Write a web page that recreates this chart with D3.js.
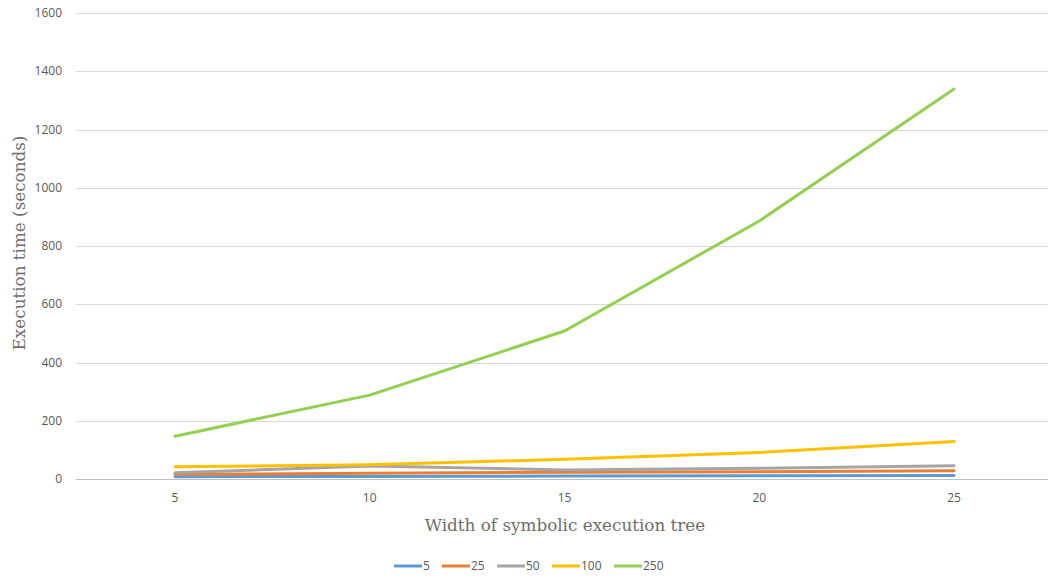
<!DOCTYPE html>
<html>
<head>
<meta charset="utf-8">
<script src="https://cdn.jsdelivr.net/npm/d3@7"></script>
<style>
  html, body { margin: 0; padding: 0; background: #ffffff; }
  svg { display: block; }
</style>
</head>
<body>
<svg id="chart" width="1048" height="577"></svg>
<script>
// Tree widths on the x axis
const widths = ["5", "25", "50", "100", "250"];
const categories = ["5", "10", "15", "20", "25"];

// Execution time (seconds) per series (depth of tree)
const series5 = [8, 9, 10, 11, 12];
const series25 = [16, 19.5, 23, 25, 28.5];
const series50 = [21.5, 44.5, 31, 36.5, 45.5];
const series100 = [42, 49, 67.5, 91, 129];
const series250 = [147, 288, 508, 886, 1339];

const yTicks = [0, 200, 400, 600, 800, 1000, 1200, 1400, 1600];
const colors = ["#5B9BD5", "#ED7D31", "#A5A5A5", "#FFC000", "#92D050"];

const seriesData = [series5, series25, series50, series100, series250];

const svg = d3.select("#chart");
const plotLeft = 77.6, plotRight = 1051.4, plotTop = 13, plotBottom = 479;
const labelFont = "'Open Sans', 'Liberation Sans', sans-serif";
const titleFont = "'DejaVu Serif', 'Liberation Serif', serif";

const x = d3.scalePoint().domain(categories).range([plotLeft, plotRight]).padding(0.5);
const y = d3.scaleLinear().domain([0, 1600]).range([plotBottom, plotTop]);

// Horizontal gridlines
svg.append("g")
  .selectAll("line")
  .data(yTicks)
  .join("line")
  .attr("x1", 76).attr("x2", 1048)
  .attr("y1", d => Math.round(y(d)) + 0.5).attr("y2", d => Math.round(y(d)) + 0.5)
  .attr("stroke", d => d === 0 ? "#bfbfbf" : "#d9d9d9")
  .attr("stroke-width", 1);

// Y tick labels
svg.append("g")
  .selectAll("text")
  .data(yTicks)
  .join("text")
  .attr("x", 62)
  .attr("y", d => y(d))
  .attr("dy", "0.35em")
  .attr("text-anchor", "end")
  .attr("font-family", labelFont)
  .attr("font-size", 12)
  .attr("fill", "#595959")
  .text(d => d);

// X tick labels
svg.append("g")
  .selectAll("text")
  .data(categories)
  .join("text")
  .attr("x", d => x(d))
  .attr("y", 498)
  .attr("dy", "0.35em")
  .attr("text-anchor", "middle")
  .attr("font-family", labelFont)
  .attr("font-size", 12)
  .attr("fill", "#595959")
  .text(d => d);

// Series lines
const line = d3.line()
  .x((d, i) => x(categories[i]))
  .y(d => y(d));

svg.append("g")
  .selectAll("path")
  .data(seriesData)
  .join("path")
  .attr("d", d => line(d))
  .attr("fill", "none")
  .attr("stroke", (d, i) => colors[i])
  .attr("stroke-width", 3)
  .attr("stroke-linejoin", "round")
  .attr("stroke-linecap", "round");

// Axis titles
svg.append("text")
  .attr("x", 565)
  .attr("y", 531)
  .attr("text-anchor", "middle")
  .attr("font-family", titleFont)
  .attr("font-size", 16.8)
  .attr("fill", "#6e6e6e")
  .text("Width of symbolic execution tree");

svg.append("text")
  .attr("transform", "translate(25,243) rotate(-90)")
  .attr("text-anchor", "middle")
  .attr("font-family", titleFont)
  .attr("font-size", 16.8)
  .attr("fill", "#6e6e6e")
  .text("Execution time (seconds)");

// Legend
const legendX = [394, 442, 497, 552, 614];
const legend = svg.append("g");
widths.forEach((w, i) => {
  legend.append("line")
    .attr("x1", legendX[i]).attr("x2", legendX[i] + 28)
    .attr("y1", 566).attr("y2", 566)
    .attr("stroke", colors[i]).attr("stroke-width", 3);
  legend.append("text")
    .attr("x", legendX[i] + 29)
    .attr("y", 566)
    .attr("dy", "0.35em")
    .attr("font-family", labelFont)
    .attr("font-size", 12)
    .attr("fill", "#595959")
    .text(w);
});
</script>
</body>
</html>
